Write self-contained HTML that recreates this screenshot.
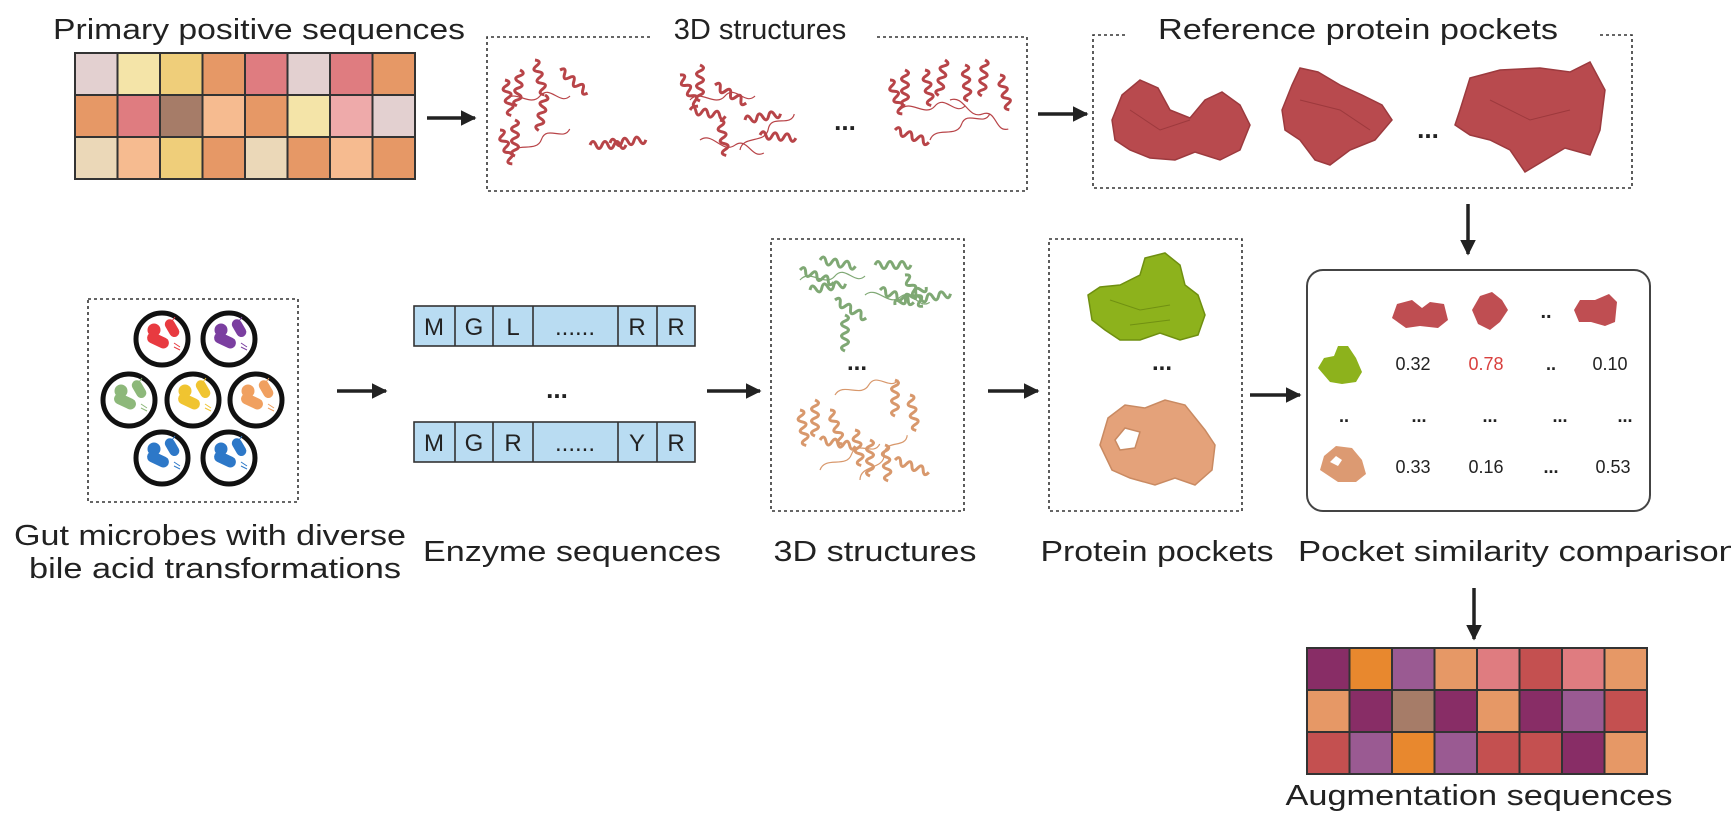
<!DOCTYPE html>
<html><head><meta charset="utf-8"><style>
html,body{margin:0;padding:0;background:#fff;}
svg{display:block;}
text{font-family:"Liberation Sans",Arial,sans-serif;fill:#222;}
</style></head><body>
<svg width="1731" height="831" viewBox="0 0 1731 831" xmlns="http://www.w3.org/2000/svg">
<defs>
<marker id="ah" viewBox="0 0 10 10" refX="9" refY="5" markerWidth="4.5" markerHeight="4.5" orient="auto"><path d="M0,0 L10,5 L0,10 z" fill="#222"/></marker>
<path id="coil" d="M0,0 q3,-7 6,0 t6,0 t6,0 t6,0 t6,0 t6,0" fill="none" stroke-width="3"/>
<path id="loop" d="M0,0 c10,-12 25,8 35,-4 s20,10 30,0" fill="none" stroke-width="1.2"/>
<g id="bug">
<circle r="26" fill="#fff" stroke="#111" stroke-width="5"/>
<circle cx="-8" cy="-9" r="6"/>
<rect x="-14" y="-2" width="22" height="10" rx="5" transform="rotate(25)"/>
<rect x="2" y="-16" width="18" height="9" rx="4.5" transform="rotate(60 10 -12)"/>
<path d="M12,4 l6,4 M12,8 l6,3 M10,-18 l3,-4" stroke-width="1" fill="none"/>
</g>
</defs>

<!-- Top-left grid -->
<g stroke="#333" stroke-width="2">
<rect x="75" y="53" width="42.5" height="42" fill="#e3d0d0"/><rect x="117.5" y="53" width="42.5" height="42" fill="#f4e4a8"/><rect x="160" y="53" width="42.5" height="42" fill="#efce7a"/><rect x="202.5" y="53" width="42.5" height="42" fill="#e69866"/><rect x="245" y="53" width="42.5" height="42" fill="#df7c80"/><rect x="287.5" y="53" width="42.5" height="42" fill="#e3d0d0"/><rect x="330" y="53" width="42.5" height="42" fill="#df7c80"/><rect x="372.5" y="53" width="42.5" height="42" fill="#e69866"/>
<rect x="75" y="95" width="42.5" height="42" fill="#e69866"/><rect x="117.5" y="95" width="42.5" height="42" fill="#df7c80"/><rect x="160" y="95" width="42.5" height="42" fill="#a67c68"/><rect x="202.5" y="95" width="42.5" height="42" fill="#f6bb90"/><rect x="245" y="95" width="42.5" height="42" fill="#e69866"/><rect x="287.5" y="95" width="42.5" height="42" fill="#f4e4a8"/><rect x="330" y="95" width="42.5" height="42" fill="#eeaaaa"/><rect x="372.5" y="95" width="42.5" height="42" fill="#e3d0d0"/>
<rect x="75" y="137" width="42.5" height="42" fill="#ebd8b8"/><rect x="117.5" y="137" width="42.5" height="42" fill="#f6bb90"/><rect x="160" y="137" width="42.5" height="42" fill="#efce7a"/><rect x="202.5" y="137" width="42.5" height="42" fill="#e69866"/><rect x="245" y="137" width="42.5" height="42" fill="#ebd8b8"/><rect x="287.5" y="137" width="42.5" height="42" fill="#e69866"/><rect x="330" y="137" width="42.5" height="42" fill="#f6bb90"/><rect x="372.5" y="137" width="42.5" height="42" fill="#e69866"/>
</g>
<text x="259" y="39" font-size="29" text-anchor="middle" textLength="412" lengthAdjust="spacingAndGlyphs">Primary positive sequences</text>

<!-- dashed boxes top -->
<g fill="none" stroke="#333" stroke-width="1.6" stroke-dasharray="3,3">
<path d="M650,37 H487 V191 H1027 V37 H875"/>
<path d="M1125,35 H1093 V188 H1632 V35 H1600"/>
</g>
<text x="760" y="39" font-size="29" text-anchor="middle">3D structures</text>
<text x="1358" y="39" font-size="29" text-anchor="middle" textLength="400" lengthAdjust="spacingAndGlyphs">Reference protein pockets</text>

<!-- arrows -->
<g stroke="#222" stroke-width="3.5" marker-end="url(#ah)">
<line x1="427" y1="118" x2="475" y2="118"/>
<line x1="1038" y1="114" x2="1087" y2="114"/>
<line x1="1468" y1="204" x2="1468" y2="254"/>
<line x1="337" y1="391" x2="386" y2="391"/>
<line x1="707" y1="391" x2="760" y2="391"/>
<line x1="988" y1="391" x2="1038" y2="391"/>
<line x1="1250" y1="395" x2="1300" y2="395"/>
<line x1="1474" y1="588" x2="1474" y2="639"/>
</g>

<!-- top ribbon structures -->
<g stroke="#b84448" fill="none">
<use href="#coil" transform="translate(505,80) rotate(80)"/>
<use href="#coil" transform="translate(520,70) rotate(95)"/>
<use href="#coil" transform="translate(535,60) rotate(75)"/>
<use href="#coil" transform="translate(545,95) rotate(100)"/>
<use href="#coil" transform="translate(560,70) rotate(40)"/>
<use href="#coil" transform="translate(515,120) rotate(90)"/>
<use href="#coil" transform="translate(500,130) rotate(70)"/>
<use href="#coil" transform="translate(590,145)"/>
<use href="#coil" transform="translate(610,143) rotate(-5)"/>
<use href="#loop" transform="translate(505,100)"/>
<use href="#loop" transform="translate(510,155) rotate(-20)"/>
<use href="#coil" transform="translate(680,75) rotate(60)"/>
<use href="#coil" transform="translate(700,65) rotate(90)"/>
<use href="#coil" transform="translate(715,85) rotate(30)"/>
<use href="#coil" transform="translate(690,110) rotate(10)"/>
<use href="#coil" transform="translate(720,120) rotate(80)"/>
<use href="#coil" transform="translate(745,120) rotate(-10)"/>
<use href="#coil" transform="translate(760,135) rotate(5)"/>
<use href="#loop" transform="translate(690,100)"/>
<use href="#loop" transform="translate(700,140) rotate(15)"/>
<use href="#loop" transform="translate(740,150) rotate(-30)"/>
<use href="#coil" transform="translate(890,80) rotate(70)"/>
<use href="#coil" transform="translate(905,70) rotate(90)"/>
<use href="#coil" transform="translate(925,70) rotate(80)"/>
<use href="#coil" transform="translate(945,60) rotate(100)"/>
<use href="#coil" transform="translate(965,65) rotate(85)"/>
<use href="#coil" transform="translate(985,60) rotate(95)"/>
<use href="#coil" transform="translate(1000,75) rotate(75)"/>
<use href="#coil" transform="translate(895,130) rotate(20)"/>
<use href="#loop" transform="translate(900,110)"/>
<use href="#loop" transform="translate(930,140) rotate(-20)"/>
<use href="#loop" transform="translate(950,100) rotate(30)"/>
</g>
<text x="845" y="130" font-size="26" font-weight="bold" text-anchor="middle">...</text>

<!-- ref pockets -->
<g fill="#b84a4e" stroke="#9c3a3e" stroke-width="1.5">
<path d="M1112,120 L1122,95 L1140,80 L1158,88 L1170,110 L1190,118 L1205,100 L1222,92 L1240,105 L1250,125 L1240,150 L1220,160 L1195,152 L1175,160 L1150,158 L1130,150 L1115,140 z"/>
<path d="M1282,110 L1292,85 L1300,68 L1318,72 L1340,85 L1362,95 L1382,105 L1392,120 L1375,140 L1350,150 L1330,165 L1315,160 L1300,140 L1285,130 z"/>
<path d="M1460,110 L1470,78 L1500,70 L1540,68 L1570,72 L1590,62 L1605,90 L1600,130 L1590,155 L1565,148 L1545,160 L1525,172 L1510,150 L1490,140 L1470,135 L1455,125 z"/>
</g>
<g stroke="#8a2e32" stroke-width="1" fill="none" opacity="0.6">
<path d="M1130,110 l30,20 l30,-10 M1300,100 l40,10 l30,20 M1490,100 l40,20 l40,-10"/>
</g>
<text x="1428" y="138" font-size="26" font-weight="bold" text-anchor="middle">...</text>

<!-- microbes box -->
<rect x="88" y="299" width="210" height="203" fill="none" stroke="#333" stroke-width="1.6" stroke-dasharray="3,3"/>
<use href="#bug" transform="translate(162,339)" fill="#e83a40" stroke="#e83a40"/>
<use href="#bug" transform="translate(229,339)" fill="#7b3fa0" stroke="#7b3fa0"/>
<use href="#bug" transform="translate(129,400)" fill="#8db87a" stroke="#8db87a"/>
<use href="#bug" transform="translate(193,400)" fill="#f0c430" stroke="#f0c430"/>
<use href="#bug" transform="translate(256,400)" fill="#f0a060" stroke="#f0a060"/>
<use href="#bug" transform="translate(162,458)" fill="#2d78c8" stroke="#2d78c8"/>
<use href="#bug" transform="translate(229,458)" fill="#2d78c8" stroke="#2d78c8"/>

<!-- enzyme sequences -->
<g fill="#b9dcf2" stroke="#333" stroke-width="1.6">
<rect x="414" y="306" width="281" height="40"/>
<rect x="414" y="422" width="281" height="40"/>
<path d="M455,306 V346 M493,306 V346 M533,306 V346 M618,306 V346 M657,306 V346 M455,422 V462 M493,422 V462 M533,422 V462 M618,422 V462 M657,422 V462" fill="none"/>
</g>
<g font-size="24" text-anchor="middle">
<text x="434" y="335">M</text><text x="474" y="335">G</text><text x="513" y="335">L</text><text x="575" y="335">......</text><text x="637" y="335">R</text><text x="676" y="335">R</text>
<text x="434" y="451">M</text><text x="474" y="451">G</text><text x="513" y="451">R</text><text x="575" y="451">......</text><text x="637" y="451">Y</text><text x="676" y="451">R</text>
</g>
<text x="557" y="398" font-size="26" font-weight="bold" text-anchor="middle">...</text>

<!-- 3D structures box 2 -->
<rect x="771" y="239" width="193" height="272" fill="none" stroke="#333" stroke-width="1.6" stroke-dasharray="3,3"/>
<g stroke="#7fa874" fill="none">
<use href="#coil" transform="translate(800,270) rotate(20)"/>
<use href="#coil" transform="translate(820,260) rotate(10)"/>
<use href="#coil" transform="translate(810,290) rotate(-10)"/>
<use href="#coil" transform="translate(835,300) rotate(30)"/>
<use href="#coil" transform="translate(845,315) rotate(90)"/>
<use href="#coil" transform="translate(875,265) rotate(0)"/>
<use href="#coil" transform="translate(880,290) rotate(20)"/>
<use href="#coil" transform="translate(895,305) rotate(-30)"/>
<use href="#coil" transform="translate(905,275) rotate(60)"/>
<use href="#coil" transform="translate(915,300) rotate(-10)"/>
<use href="#loop" transform="translate(800,280)"/>
<use href="#loop" transform="translate(865,295) rotate(10)"/>
</g>
<text x="857" y="370" font-size="24" font-weight="bold" text-anchor="middle">...</text>
<g stroke="#d8986c" fill="none">
<use href="#coil" transform="translate(800,410) rotate(80)"/>
<use href="#coil" transform="translate(815,400) rotate(90)"/>
<use href="#coil" transform="translate(830,410) rotate(70)"/>
<use href="#coil" transform="translate(820,440) rotate(10)"/>
<use href="#coil" transform="translate(855,430) rotate(80)"/>
<use href="#coil" transform="translate(870,440) rotate(90)"/>
<use href="#coil" transform="translate(885,445) rotate(85)"/>
<use href="#coil" transform="translate(895,380) rotate(90)"/>
<use href="#coil" transform="translate(910,395) rotate(80)"/>
<use href="#coil" transform="translate(895,460) rotate(20)"/>
<use href="#loop" transform="translate(835,395) rotate(-10)"/>
<use href="#loop" transform="translate(820,470) rotate(-20)"/>
<use href="#loop" transform="translate(860,480) rotate(-40)"/>
</g>

<!-- pockets box -->
<rect x="1049" y="239" width="193" height="272" fill="none" stroke="#333" stroke-width="1.6" stroke-dasharray="3,3"/>
<path d="M1088,295 L1100,287 L1120,285 L1140,275 L1145,258 L1165,253 L1180,265 L1185,285 L1198,295 L1205,315 L1198,335 L1180,340 L1160,333 L1140,340 L1120,340 L1105,330 L1092,320 z" fill="#8db21c" stroke="#6f8f10" stroke-width="1.5"/>
<path d="M1110,300 l30,10 l30,-5 M1130,325 l40,-5" stroke="#5e7a0c" fill="none" opacity="0.6"/>
<text x="1162" y="370" font-size="24" font-weight="bold" text-anchor="middle">...</text>
<path fill-rule="evenodd" d="M1100,445 L1108,418 L1125,405 L1145,408 L1165,400 L1185,405 L1205,430 L1215,445 L1212,470 L1195,485 L1175,478 L1155,485 L1130,478 L1112,470 z M1115,440 L1125,428 L1140,432 L1135,448 L1120,450 z" fill="#e4a27a" stroke="#c98a62" stroke-width="1.5"/>

<!-- similarity box -->
<rect x="1307" y="270" width="343" height="241" rx="16" fill="none" stroke="#444" stroke-width="2"/>
<g fill="#bf4e52">
<path d="M1392,318 l5,-14 l15,-4 l10,8 l8,-6 l14,2 l4,16 l-10,8 l-18,-2 l-14,2 z"/>
<path d="M1472,310 l8,-14 l12,-4 l10,8 l6,10 l-8,12 l-10,8 l-12,-6 z"/>
<path d="M1574,310 l6,-10 l15,0 l14,-6 l8,8 l-2,20 l-10,4 l-14,-4 l-12,0 z"/>
</g>
<text x="1546" y="318" font-size="20" font-weight="bold" text-anchor="middle">..</text>
<path d="M1318,368 l6,-10 l10,-2 l4,-10 l10,0 l8,12 l6,14 l-6,10 l-14,2 l-12,-2 z" fill="#8db21c"/>
<path fill-rule="evenodd" d="M1320,470 l4,-14 l12,-10 l16,2 l10,12 l4,14 l-10,8 l-18,0 z M1330,462 l6,-6 l6,4 l-4,6 z" fill="#dc9a72"/>
<g font-size="18" text-anchor="middle">
<text x="1413" y="370">0.32</text><text x="1486" y="370" style="fill:#d9403e">0.78</text><text x="1551" y="370" font-weight="bold">..</text><text x="1610" y="370">0.10</text>
<text x="1344" y="422" font-weight="bold">..</text><text x="1419" y="422" font-weight="bold">...</text><text x="1490" y="422" font-weight="bold">...</text><text x="1560" y="422" font-weight="bold">...</text><text x="1625" y="422" font-weight="bold">...</text>
<text x="1413" y="473">0.33</text><text x="1486" y="473">0.16</text><text x="1551" y="473" font-weight="bold">...</text><text x="1613" y="473">0.53</text>
</g>

<!-- bottom labels -->
<g font-size="29" text-anchor="middle">
<text x="210" y="545" textLength="392" lengthAdjust="spacingAndGlyphs">Gut microbes with diverse</text>
<text x="215" y="578" textLength="372" lengthAdjust="spacingAndGlyphs">bile acid transformations</text>
<text x="572" y="561" textLength="298" lengthAdjust="spacingAndGlyphs">Enzyme sequences</text>
<text x="875" y="561" textLength="203" lengthAdjust="spacingAndGlyphs">3D structures</text>
<text x="1157" y="561" textLength="233" lengthAdjust="spacingAndGlyphs">Protein pockets</text>
<text x="1298" y="561" text-anchor="start" textLength="440" lengthAdjust="spacingAndGlyphs">Pocket similarity comparison</text>
<text x="1479" y="805" textLength="387" lengthAdjust="spacingAndGlyphs">Augmentation sequences</text>
</g>

<!-- bottom grid -->
<g stroke="#333" stroke-width="2">
<rect x="1307" y="648" width="42.5" height="42" fill="#882d66"/><rect x="1349.5" y="648" width="42.5" height="42" fill="#e8882e"/><rect x="1392" y="648" width="42.5" height="42" fill="#9a5a92"/><rect x="1434.5" y="648" width="42.5" height="42" fill="#e69866"/><rect x="1477" y="648" width="42.5" height="42" fill="#df7c80"/><rect x="1519.5" y="648" width="42.5" height="42" fill="#c45050"/><rect x="1562" y="648" width="42.5" height="42" fill="#df7c80"/><rect x="1604.5" y="648" width="42.5" height="42" fill="#e69866"/>
<rect x="1307" y="690" width="42.5" height="42" fill="#e69866"/><rect x="1349.5" y="690" width="42.5" height="42" fill="#882d66"/><rect x="1392" y="690" width="42.5" height="42" fill="#a67c68"/><rect x="1434.5" y="690" width="42.5" height="42" fill="#882d66"/><rect x="1477" y="690" width="42.5" height="42" fill="#e69866"/><rect x="1519.5" y="690" width="42.5" height="42" fill="#882d66"/><rect x="1562" y="690" width="42.5" height="42" fill="#9a5a92"/><rect x="1604.5" y="690" width="42.5" height="42" fill="#c45050"/>
<rect x="1307" y="732" width="42.5" height="42" fill="#c45050"/><rect x="1349.5" y="732" width="42.5" height="42" fill="#9a5a92"/><rect x="1392" y="732" width="42.5" height="42" fill="#e8882e"/><rect x="1434.5" y="732" width="42.5" height="42" fill="#9a5a92"/><rect x="1477" y="732" width="42.5" height="42" fill="#c45050"/><rect x="1519.5" y="732" width="42.5" height="42" fill="#c45050"/><rect x="1562" y="732" width="42.5" height="42" fill="#882d66"/><rect x="1604.5" y="732" width="42.5" height="42" fill="#e69866"/>
</g>
</svg>
</body></html>
